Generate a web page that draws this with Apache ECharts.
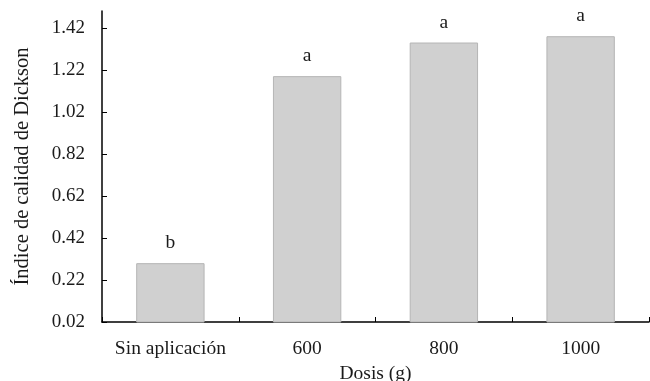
<!DOCTYPE html>
<html>
<head>
<meta charset="utf-8">
<script src="https://cdn.jsdelivr.net/npm/echarts@6/dist/echarts.min.js"></script>
<style>
html,body{margin:0;padding:0;background:#fff;}
#chart{width:650px;height:381px;}
</style>
</head>
<body>
<div id="chart"></div>
<script>
var categories = ['Sin aplicación', '600', '800', '1000'];
var values = [0.30, 1.19, 1.35, 1.38];
var letters = ['b', 'a', 'a', 'a'];
var yTicks = [0.02, 0.22, 0.42, 0.62, 0.82, 1.02, 1.22, 1.42];

var chart = echarts.init(document.getElementById('chart'));
var font = '"Liberation Serif", "Times New Roman", serif';
chart.setOption({
  animation: false,
  grid: { left: 102, right: 1, top: 11, bottom: 59, containLabel: false, outerBoundsMode: 'none' },
  xAxis: {
    type: 'category',
    data: categories,
    name: 'Dosis (g)',
    nameLocation: 'middle',
    nameGap: 42,
    nameTextStyle: { fontFamily: font, fontSize: 19.5, color: '#1a1a1a' },
    axisLine: { lineStyle: { color: '#000', width: 1.5 } },
    axisTick: { show: true, inside: true, length: 5, interval: 0, lineStyle: { color: '#000' } },
    axisLabel: { fontFamily: font, fontSize: 19.5, color: '#1a1a1a', margin: 17, interval: 0, hideOverlap: false }
  },
  yAxis: {
    type: 'value',
    min: 0.02,
    max: 1.5,
    name: 'Índice de calidad de Dickson',
    nameLocation: 'middle',
    nameGap: 69,
    nameTextStyle: { fontFamily: font, fontSize: 20.5, color: '#1a1a1a' },
    axisLine: { show: true, lineStyle: { color: '#000', width: 1.5 } },
    axisTick: { show: true, inside: true, length: 5, customValues: yTicks, lineStyle: { color: '#000' } },
    axisLabel: {
      fontFamily: font, fontSize: 19, color: '#1a1a1a', margin: 17,
      customValues: yTicks,
      formatter: function (v) { return v.toFixed(2); }
    },
    splitLine: { show: false }
  },
  series: [{
    type: 'bar',
    data: values,
    barWidth: '50%',
    itemStyle: { color: '#d0d0d0', borderColor: '#b5b5b5', borderWidth: 1 },
    label: {
      show: true,
      position: 'top',
      distance: 10,
      fontFamily: font,
      fontSize: 19.5,
      color: '#1a1a1a',
      formatter: function (p) { return letters[p.dataIndex]; }
    }
  }]
});
</script>
</body>
</html>
